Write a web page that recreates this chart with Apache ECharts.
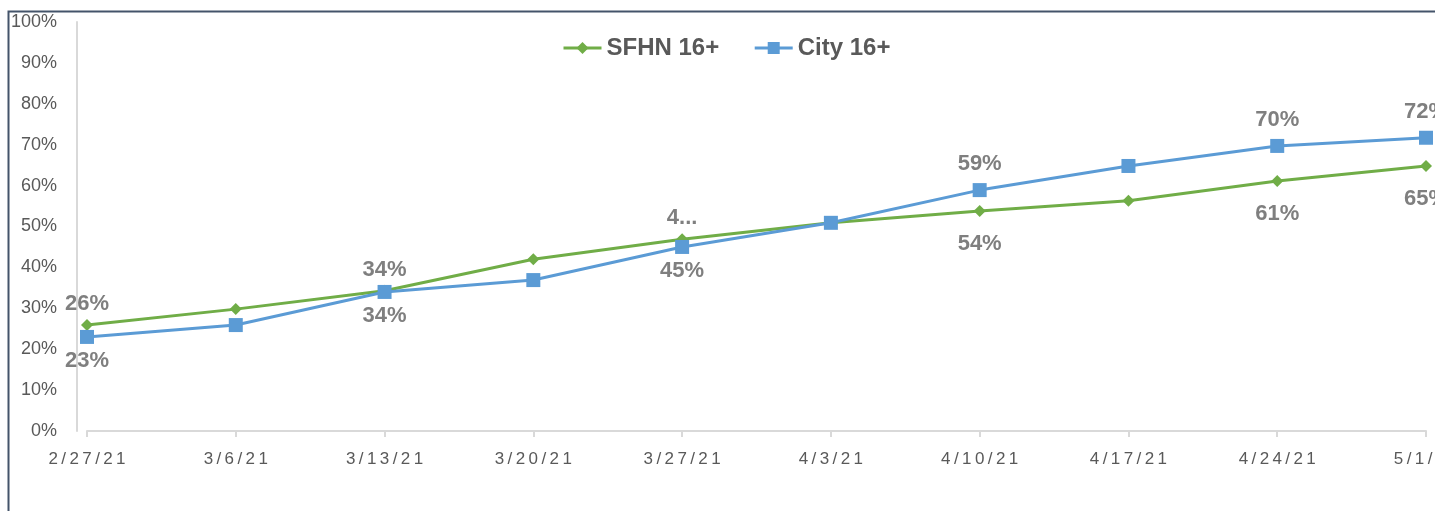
<!DOCTYPE html>
<html>
<head>
<meta charset="utf-8">
<script src="https://cdn.jsdelivr.net/npm/echarts@6/dist/echarts.min.js"></script>
<style>
  html, body { margin: 0; padding: 0; background: #fff; }
  #main { width: 1435px; height: 511px; }
</style>
</head>
<body>
<div id="main"></div>
<script>
  // weeks on the x axis
  var weeks = ['2/27/21', '3/6/21', '3/13/21', '3/20/21', '3/27/21', '4/3/21', '4/10/21', '4/17/21', '4/24/21', '5/1/21'];
  // percent of 16+ population
  var sfhn = [25.9, 29.8, 34.3, 42.0, 46.9, 50.9, 53.8, 56.3, 61.1, 64.8];
  var city = [23.0, 25.9, 34.0, 36.9, 45.0, 50.9, 58.9, 64.8, 69.7, 71.7];
  // data labels as shown (empty = no label)
  var sfhnLabels = ['26%', '', '34%', '', '4...', '', '54%', '', '61%', '65%'];
  var cityLabels = ['23%', '', '34%', '', '45%', '', '59%', '', '70%', '72%'];
  var sfhnLabelPos = ['top', '', 'top', '', 'top', '', 'bottom', '', 'bottom', 'bottom'];
  var cityLabelPos = ['bottom', '', 'bottom', '', 'bottom', '', 'top', '', 'top', 'top'];

  function buildData(values, labels, positions, dist) {
    return values.map(function (v, i) {
      var pos = positions[i] || 'top';
      return {
        value: v,
        label: {
          show: labels[i] !== '',
          position: pos,
          distance: dist[pos],
          formatter: labels[i],
          color: '#7f7f7f',
          fontSize: 22,
          fontWeight: 'bold',
          fontFamily: 'Liberation Sans'
        }
      };
    });
  }

  var myChart = echarts.init(document.getElementById('main'));
  myChart.setOption({
    animation: false,
    graphic: [{
      type: 'rect',
      shape: { x: 8.5, y: 11.5, width: 1500, height: 600 },
      style: { fill: 'none', stroke: '#44546a', lineWidth: 2 },
      silent: true
    }],
    legend: {
      left: 557,
      top: 31,
      itemWidth: 38,
      itemHeight: 15,
      itemGap: 34,
      lineStyle: { width: 3 },
      textStyle: {
        color: '#595959',
        fontSize: 24,
        fontWeight: 'bold',
        fontFamily: 'Liberation Sans'
      },
      data: ['SFHN 16+', 'City 16+']
    },
    grid: { left: 87, right: 9, top: 22, bottom: 80, outerBoundsMode: 'none', containLabel: false },
    xAxis: {
      type: 'category',
      boundaryGap: false,
      data: weeks,
      axisLine: { lineStyle: { color: '#d9d9d9', width: 2 } },
      axisTick: { length: 6, lineStyle: { color: '#d9d9d9', width: 2 } },
      axisLabel: {
        color: '#595959',
        fontSize: 17,
        fontFamily: 'Liberation Sans',
        margin: 20,
        hideOverlap: false,
        formatter: function (s) { return s.split('').join('\u2009'); }
      }
    },
    yAxis: {
      type: 'value',
      min: 0,
      max: 100,
      interval: 10,
      offset: 10,
      axisLine: { show: true, lineStyle: { color: '#d9d9d9', width: 2 } },
      axisTick: { show: false },
      splitLine: { show: false },
      axisLabel: {
        color: '#595959',
        fontSize: 18,
        fontFamily: 'Liberation Sans',
        margin: 20,
        formatter: '{value}%'
      }
    },
    series: [{
      name: 'SFHN 16+',
      type: 'line',
      symbol: 'diamond',
      symbolSize: 12,
      itemStyle: { color: '#70ad47' },
      lineStyle: { color: '#70ad47', width: 3 },
      data: buildData(sfhn, sfhnLabels, sfhnLabelPos, { top: 4, bottom: 16 })
    }, {
      name: 'City 16+',
      type: 'line',
      symbol: 'rect',
      symbolSize: 14,
      itemStyle: { color: '#5b9bd5' },
      lineStyle: { color: '#5b9bd5', width: 3 },
      data: buildData(city, cityLabels, cityLabelPos, { top: 8, bottom: 6 })
    }]
  });
</script>
</body>
</html>
